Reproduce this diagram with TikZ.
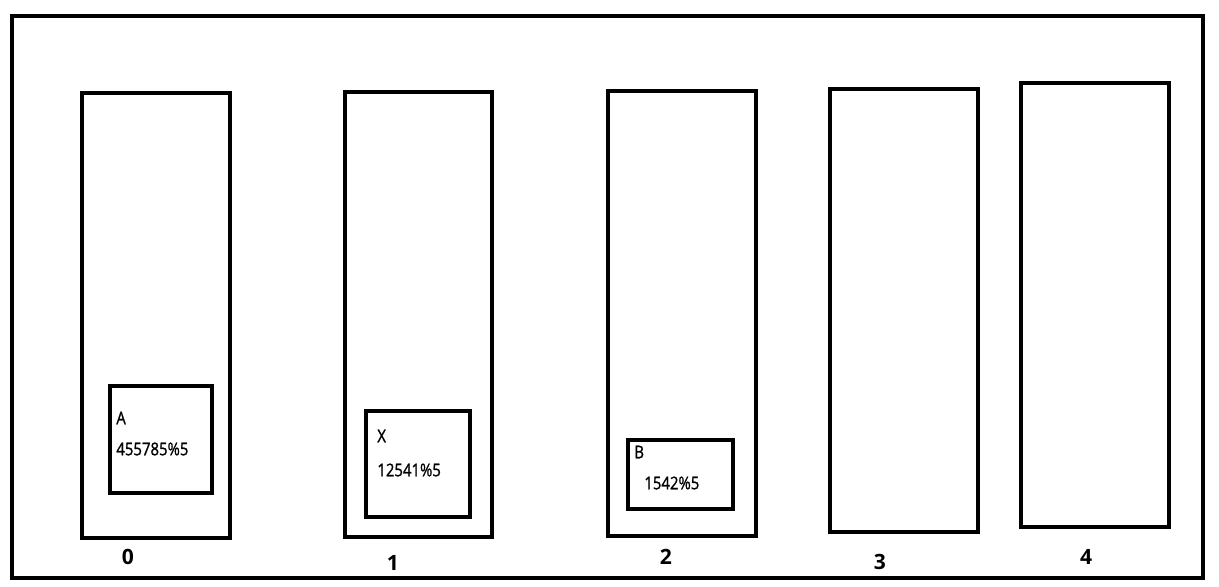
\documentclass[tikz,border=0pt]{standalone}
\usepackage{fontspec}
\setmainfont{Open Sans}
\newfontfamily\semi[FakeStretch=0.85,FakeBold=1.2]{Open Sans}
\usetikzlibrary{positioning}

\tikzset{
    slot/.style={line width=2.8pt},
    cell/.style={line width=2pt},
    slotlabel/.style={font=\bfseries\fontsize{12}{14}\selectfont, inner sep=0pt},
    celltext/.style={font=\semi\fontsize{10}{12}\selectfont, inner sep=0pt}
}

\begin{document}
\begin{tikzpicture}[x=0.02cm, y=-0.02cm]
    \useasboundingbox (0,0) rectangle (1219,587);

    % Frame
    \draw[slot] (12,16) rectangle (1203,578);

    % Slots with their index below
    \foreach \xa/\ya/\xb/\yb/\lx/\ly/\idx in {82/93/230/538/128/557/0, 345/92/492/537/393/563/1, 608/91/756/536/666/557/2, 830/89/978/532/880/562/3, 1021/83/1169/527/1086/557/4} {
        \draw[slot] (\xa,\ya) rectangle (\xb,\yb);
        \node[slotlabel] (lab\idx) at (\lx,\ly) {\idx};
    }

    % Cell in slot 0
    \draw[cell] (110,386) rectangle (212,493);
    \node[celltext, anchor=west] (keyA) at (116,418) {A};
    \node[celltext, anchor=west] (valA) at (116,449) {455785\%5};

    % Cell in slot 1
    \draw[cell] (366,411) rectangle (470,517);
    \node[celltext, anchor=west] (keyX) at (377,436) {X};
    \node[celltext, anchor=west] (valX) at (377,470) {12541\%5};

    % Cell in slot 2
    \draw[cell] (628,440) rectangle (733,509);
    \node[celltext, anchor=west] (keyB) at (634,452) {B};
    \node[celltext, anchor=west] (valB) at (644,483) {1542\%5};
\end{tikzpicture}
\end{document}
